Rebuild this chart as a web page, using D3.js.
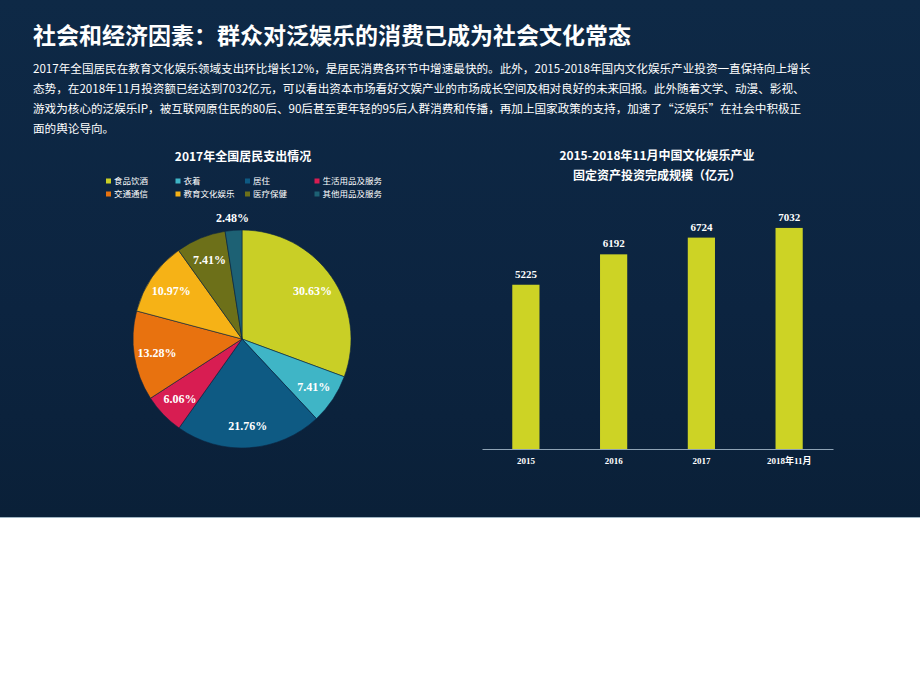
<!DOCTYPE html>
<html lang="zh">
<head>
    <meta charset="UTF-8">
    <title>社会和经济因素</title>
    <script src="https://cdnjs.cloudflare.com/ajax/libs/d3/7.8.5/d3.min.js"></script>
    <style>
        body { margin: 0; background: #fff; }
        svg { display: block; }
        .cn { font-family: "Noto Sans CJK SC", sans-serif; }
        .num { font-family: "Liberation Serif", serif; font-weight: bold; }
    </style>
</head>
<body>
<div id="chart"></div>
<script>
    // pie: 2017 spending breakdown
    const pieCategories = ["食品饮酒", "衣着", "居住", "生活用品及服务", "交通通信", "教育文化娱乐", "医疗保健", "其他用品及服务"];
    const pieValues = [30.63, 7.41, 21.76, 6.06, 13.28, 10.97, 7.41, 2.48];
    const pieColors = ["#c9cf26", "#3fb5c6", "#0e5a83", "#d81d52", "#e8720f", "#f6b216", "#6d7019", "#1d6174"];

    // bars: fixed asset investment
    const barYears = ["2015", "2016", "2017", "2018年11月"];
    const barValues = [5225, 6192, 6724, 7032];

    const title = "社会和经济因素：群众对泛娱乐的消费已成为社会文化常态";
    const paragraph = [
        "2017年全国居民在教育文化娱乐领域支出环比增长12%，是居民消费各环节中增速最快的。此外，2015-2018年国内文化娱乐产业投资一直保持向上增长",
        "态势，在2018年11月投资额已经达到7032亿元，可以看出资本市场看好文娱产业的市场成长空间及相对良好的未来回报。此外随着文学、动漫、影视、",
        "游戏为核心的泛娱乐IP，被互联网原住民的80后、90后甚至更年轻的95后人群消费和传播，再加上国家政策的支持，加速了“泛娱乐”在社会中积极正",
        "面的舆论导向。"
    ];
    const pieTitle = "2017年全国居民支出情况";
    const barTitle = ["2015-2018年11月中国文化娱乐产业", "固定资产投资完成规模（亿元）"];

    const W = 920, H = 690;
    const svg = d3.select("#chart").append("svg").attr("width", W).attr("height", H);

    const defs = svg.append("defs");
    const grad = defs.append("linearGradient").attr("id", "bg").attr("x1", 0).attr("y1", 0).attr("x2", 0).attr("y2", 1);
    grad.append("stop").attr("offset", "0%").attr("stop-color", "#0e2946");
    grad.append("stop").attr("offset", "60%").attr("stop-color", "#0c2440");
    grad.append("stop").attr("offset", "100%").attr("stop-color", "#0a2038");

    svg.append("rect").attr("width", W).attr("height", 517).attr("fill", "url(#bg)");
    svg.append("line").attr("x1", 0).attr("x2", W).attr("y1", 517.5).attr("y2", 517.5)
        .attr("stroke", "#9fb4c2").attr("stroke-width", 1);

    // heading + paragraph
    svg.append("text").attr("class", "cn")
        .attr("x", 33).attr("y", 44)
        .attr("fill", "#fff").attr("font-size", 23).attr("font-weight", "bold")
        .text(title);

    svg.append("g").selectAll("text")
        .data(paragraph)
        .enter().append("text")
        .attr("class", "cn")
        .attr("x", 33)
        .attr("y", (d, i) => 73 + i * 20)
        .attr("fill", "#fff").attr("font-size", 11.6)
        .text(d => d);

    // ---- pie ----
    const cx = 242, cy = 339, R = 109;
    svg.append("text").attr("class", "cn")
        .attr("x", 243).attr("y", 161).attr("text-anchor", "middle")
        .attr("fill", "#fff").attr("font-size", 12).attr("font-weight", "bold")
        .text(pieTitle);

    const legend = svg.append("g").selectAll("g")
        .data(pieCategories)
        .enter().append("g")
        .attr("transform", (d, i) => `translate(${106 + (i % 4) * 69.5},${(i < 4 ? 181 : 194)})`);
    legend.append("rect").attr("x", 0).attr("y", -2.5).attr("width", 5).attr("height", 5)
        .attr("fill", (d, i) => pieColors[i]);
    legend.append("text").attr("class", "cn")
        .attr("x", 8).attr("y", 3)
        .attr("fill", "#fff").attr("font-size", 8.5)
        .text(d => d);

    const pie = d3.pie().sort(null).value(d => d);
    const arc = d3.arc().innerRadius(0).outerRadius(R);
    const labelArc = d3.arc().innerRadius(86).outerRadius(86);
    const outerArc = d3.arc().innerRadius(122).outerRadius(122);
    const arcs = pie(pieValues);

    const pg = svg.append("g").attr("transform", `translate(${cx},${cy})`);
    pg.selectAll("path")
        .data(arcs)
        .enter().append("path")
        .attr("d", arc)
        .attr("fill", (d, i) => pieColors[i])
        .attr("stroke", "#0c2541").attr("stroke-width", 0.6);

    pg.selectAll("text")
        .data(arcs)
        .enter().append("text")
        .attr("class", "num")
        .attr("transform", d => {
            const c = (d.data < 5 ? outerArc : labelArc).centroid(d);
            return `translate(${c[0]},${c[1]})`;
        })
        .attr("dy", "0.4em")
        .attr("text-anchor", "middle")
        .attr("fill", "#fff").attr("font-size", 12)
        .text(d => d.data.toFixed(2) + "%");

    // ---- bars ----
    svg.append("g").selectAll("text")
        .data(barTitle)
        .enter().append("text")
        .attr("class", "cn")
        .attr("x", 657).attr("y", (d, i) => 160 + i * 20)
        .attr("text-anchor", "middle")
        .attr("fill", "#fff").attr("font-size", 12).attr("font-weight", "bold")
        .text(d => d);

    const x = d3.scaleBand().domain(barYears).range([482, 833]).paddingInner(0.69).paddingOuter(0.345);
    const y = d3.scaleLinear().domain([0, 8000]).range([449, 197.5]);

    svg.append("g").selectAll("rect")
        .data(barValues)
        .enter().append("rect")
        .attr("x", (d, i) => x(barYears[i]))
        .attr("y", d => y(d))
        .attr("width", x.bandwidth())
        .attr("height", d => y(0) - y(d))
        .attr("fill", "#cdd325");

    svg.append("g").selectAll("text")
        .data(barValues)
        .enter().append("text")
        .attr("class", "num")
        .attr("x", (d, i) => x(barYears[i]) + x.bandwidth() / 2)
        .attr("y", d => y(d) - 7)
        .attr("text-anchor", "middle")
        .attr("fill", "#fff").attr("font-size", 11)
        .text(d => d);

    const xAxis = svg.append("g")
        .attr("transform", `translate(0,${y(0)})`)
        .call(d3.axisBottom(x).tickSize(0).tickPadding(9));
    xAxis.select(".domain").attr("stroke", "#8fa3b5").attr("stroke-width", 1.2);
    xAxis.selectAll("text")
        .attr("fill", "#fff").attr("font-size", 9)
        .attr("font-family", "'Liberation Serif', 'Noto Sans CJK SC', serif")
        .attr("font-weight", "bold");
</script>
</body>
</html>
